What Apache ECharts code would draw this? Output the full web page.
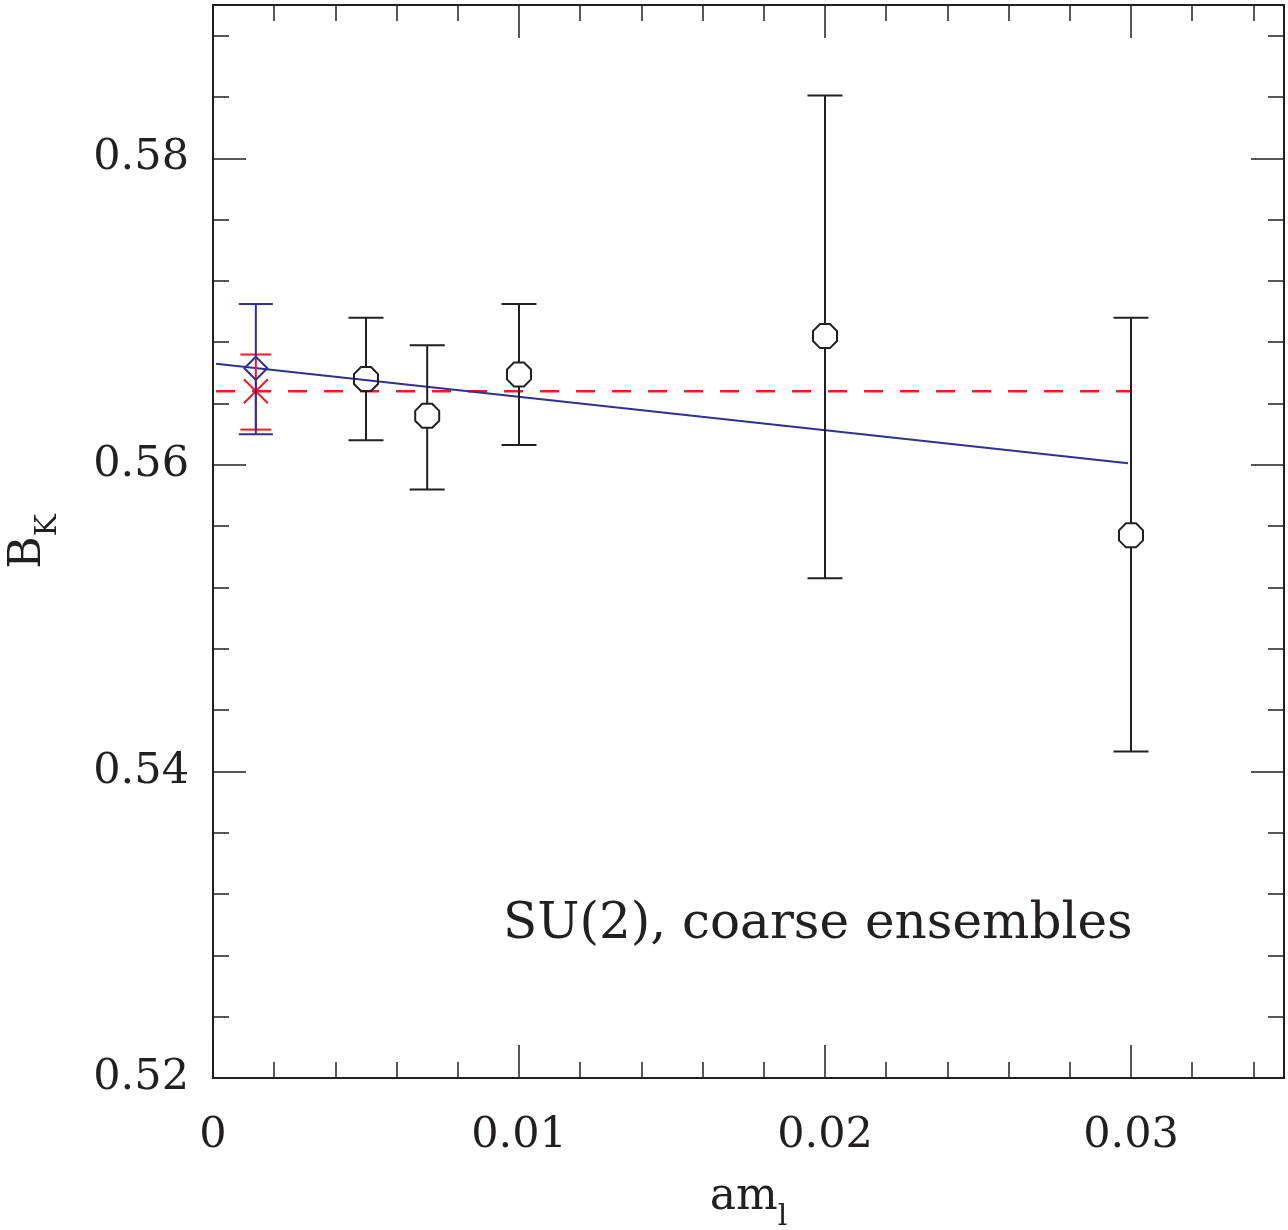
<!DOCTYPE html>
<html>
<head>
<meta charset="utf-8">
<script src="https://cdn.jsdelivr.net/npm/echarts@6/dist/echarts.min.js"></script>
<style>
  html, body { margin: 0; padding: 0; background: #fff; }
  #chart { width: 1288px; height: 1230px; }
</style>
</head>
<body>
<div id="chart"></div>
<script>
// coarse ensembles, light quark mass am_l vs B_K
const amlValues = [0.005, 0.007, 0.01, 0.02, 0.03]
const bkValues = [0.5656, 0.5632, 0.5659, 0.5684, 0.5554]
const bkLow = [0.5616, 0.5584, 0.5613, 0.5526, 0.5413]
const bkHigh = [0.5696, 0.5678, 0.5705, 0.5841, 0.5696]

// extrapolated point (blue diamond) and constant fit (red cross)
const physAml = 0.0014
const fitPoint = [0.5663, 0.5620, 0.5705]     // value, low, high
const constPoint = [0.5648, 0.5623, 0.5672]   // value, low, high

// fit lines
const linearFit = [[0.0001, 0.5666], [0.0299, 0.5601]]
const constFit = [[0.0001, 0.5648], [0.03, 0.5648]]

const xTicks = { min: 0, max: 0.035, major: 0.01, minor: 0.002 }
const yTicks = { min: 0.52, max: 0.59, major: 0.02, minor: 0.004 }

const BLACK = '#231f20'
const BLUE = '#2e3192'
const RED = '#ed1c24'
const FONT = 'DejaVu Serif'

const octagon = 'path://M-0.383,-0.924L0.383,-0.924L0.924,-0.383L0.924,0.383L0.383,0.924L-0.383,0.924L-0.924,0.383L-0.924,-0.383Z'
const cross = 'path://M0,0L1,1M1,0L0,1'

function errorBars(capHalf, gapHalf, color) {
  return function (params, api) {
    const x = api.value(0)
    const top = api.coord([x, api.value(3)])
    const bot = api.coord([x, api.value(2)])
    const mid = api.coord([x, api.value(1)])
    const style = { stroke: color, lineWidth: 2 }
    const seg = (x1, y1, x2, y2) => ({ type: 'line', shape: { x1, y1, x2, y2 }, style })
    const children = [
      seg(top[0] - capHalf, top[1], top[0] + capHalf, top[1]),
      seg(bot[0] - capHalf, bot[1], bot[0] + capHalf, bot[1])
    ]
    if (gapHalf > 0) {
      children.push(seg(top[0], top[1], mid[0], mid[1] - gapHalf))
      children.push(seg(mid[0], mid[1] + gapHalf, bot[0], bot[1]))
    } else {
      children.push(seg(top[0], top[1], bot[0], bot[1]))
    }
    return { type: 'group', children }
  }
}

function xAxisDef(pos, interval, len, withLabels) {
  return {
    type: 'value', position: pos, gridIndex: 0,
    min: xTicks.min, max: xTicks.max, interval,
    axisLine: { show: true, onZero: false, lineStyle: { color: BLACK, width: 2 } },
    axisTick: { show: true, inside: true, length: len, lineStyle: { color: BLACK, width: 1.5 } },
    axisLabel: {
      show: withLabels, margin: 36, color: BLACK, fontFamily: FONT, fontSize: 43,
      formatter: v => (Math.abs(v / xTicks.major - Math.round(v / xTicks.major)) < 1e-6 ? (v === 0 ? '0' : v.toFixed(2)) : '')
    },
    splitLine: { show: false }
  }
}

function yAxisDef(pos, interval, len, withLabels) {
  return {
    type: 'value', position: pos, gridIndex: 0,
    min: yTicks.min, max: yTicks.max, interval,
    axisLine: { show: true, onZero: false, lineStyle: { color: BLACK, width: 2 } },
    axisTick: { show: true, inside: true, length: len, lineStyle: { color: BLACK, width: 1.5 } },
    axisLabel: {
      show: withLabels, margin: 24, color: BLACK, fontFamily: FONT, fontSize: 43,
      formatter: v => (Math.abs((v - yTicks.min) / yTicks.major - Math.round((v - yTicks.min) / yTicks.major)) < 1e-6 ? v.toFixed(2) : '')
    },
    splitLine: { show: false }
  }
}

// main letters + lowered subscript
const nameRich = {
  a: { fontFamily: FONT, fontSize: 44, color: BLACK, lineHeight: 56, verticalAlign: 'top' },
  s: { fontFamily: FONT, fontSize: 30, color: BLACK, lineHeight: 30, verticalAlign: 'bottom' }
}

const xAxes = [
  xAxisDef('bottom', xTicks.major, 33, true),
  xAxisDef('bottom', xTicks.minor, 16, false),
  xAxisDef('top', xTicks.major, 33, false),
  xAxisDef('top', xTicks.minor, 16, false)
]
xAxes[0].name = '{a|am}{s|l}'
xAxes[0].nameLocation = 'middle'
xAxes[0].nameGap = 98
xAxes[0].nameTextStyle = { color: BLACK, fontFamily: FONT, rich: nameRich }

const yAxes = [
  yAxisDef('left', yTicks.major, 33, true),
  yAxisDef('left', yTicks.minor, 16, false),
  yAxisDef('right', yTicks.major, 33, false),
  yAxisDef('right', yTicks.minor, 16, false)
]
yAxes[0].name = '{a|B}{s|K}'
yAxes[0].nameLocation = 'middle'
yAxes[0].nameGap = 150
yAxes[0].nameRotate = 90
yAxes[0].nameTextStyle = { color: BLACK, fontFamily: FONT, rich: nameRich }

const chart = echarts.init(document.getElementById('chart'), null, { renderer: 'canvas' })

chart.setOption({
  backgroundColor: '#fff',
  animation: false,
  grid: { left: 213, right: 4, top: 5, bottom: 152, outerBoundsMode: 'none' },
  title: {
    text: 'SU(2), coarse ensembles',
    left: 498, top: 895,
    textStyle: { fontFamily: FONT, fontSize: 50, fontWeight: 'normal', color: BLACK }
  },
  xAxis: xAxes,
  yAxis: yAxes,
  series: [
    {
      type: 'line', data: constFit, symbol: 'none', z: 3,
      lineStyle: { color: RED, width: 2.5, type: [19, 17] }
    },
    {
      type: 'line', data: linearFit, symbol: 'none', z: 3,
      lineStyle: { color: BLUE, width: 2 }
    },
    {
      type: 'custom', z: 4,
      renderItem: errorBars(17.5, 12.5, BLACK),
      data: amlValues.map((x, i) => [x, bkValues[i], bkLow[i], bkHigh[i]])
    },
    {
      type: 'scatter', z: 5,
      symbol: octagon, symbolSize: 24,
      itemStyle: { color: 'none', opacity: 1, borderColor: BLACK, borderWidth: 2 },
      data: amlValues.map((x, i) => [x, bkValues[i]])
    },
    {
      type: 'custom', z: 4,
      renderItem: errorBars(15.5, 0, RED),
      data: [[physAml, constPoint[0], constPoint[1], constPoint[2]]]
    },
    {
      type: 'scatter', z: 5,
      symbol: cross, symbolSize: 24,
      itemStyle: { color: 'none', opacity: 1, borderColor: RED, borderWidth: 2 },
      data: [[physAml, constPoint[0]]]
    },
    {
      type: 'custom', z: 6,
      renderItem: errorBars(17, 12, BLUE),
      data: [[physAml, fitPoint[0], fitPoint[1], fitPoint[2]]]
    },
    {
      type: 'scatter', z: 6,
      symbol: 'diamond', symbolSize: 23,
      itemStyle: { color: 'none', opacity: 1, borderColor: BLUE, borderWidth: 2 },
      data: [[physAml, fitPoint[0]]]
    }
  ]
})
</script>
</body>
</html>
